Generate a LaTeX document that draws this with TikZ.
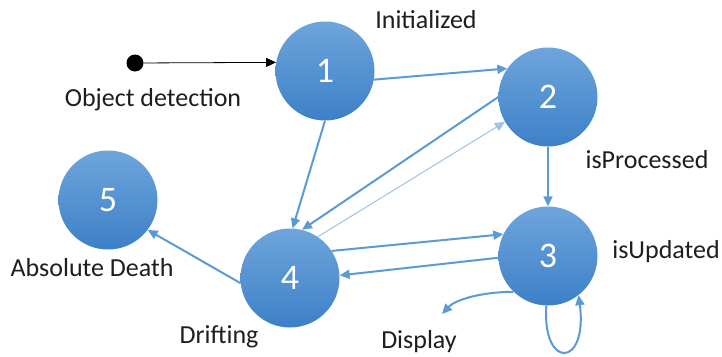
\documentclass[tikz,border=0pt]{standalone}
\usepackage{fontspec}
\setmainfont{Carlito}
\usetikzlibrary{arrows.meta}
\definecolor{edgeblue}{HTML}{5B9BD5}
\definecolor{thinblue}{HTML}{9DC3E6}
\definecolor{nodetop}{HTML}{6EA5DB}
\definecolor{nodebot}{HTML}{3D80C8}
\definecolor{labeltext}{HTML}{1E1E1E}
\begin{document}
\begin{tikzpicture}[x=1pt,y=-1pt,
  state/.style={circle, minimum size=99pt, inner sep=0pt, top color=nodetop, bottom color=nodebot, draw=none, text=white, font=\fontsize{36}{40}\selectfont},
  lbl/.style={font=\fontsize{26}{30}\selectfont, text=labeltext, inner sep=0pt},
  edge/.style={draw=edgeblue, line width=2pt, -{Triangle[length=10pt,width=9pt]}},
  thinedge/.style={draw=thinblue, line width=1pt, -{Triangle[length=10pt,width=9pt]}},
  startarrow/.style={draw=black, line width=0.8pt, -{Triangle[length=10pt,width=9pt]}}]
\useasboundingbox (0,0) rectangle (722,356);
\fill[white] (0,0) rectangle (722,356);

\node[state] (n1) at (325,71) {1};
\node[state] (n2) at (548,97) {2};
\node[state] (n3) at (548,256) {3};
\node[state] (n4) at (290,278) {4};
\node[state] (n5) at (108,200) {5};
\node[circle, fill=black, minimum size=17pt, inner sep=0pt] (start) at (135,63) {};

\node[lbl] (tobj) at (153,100) {Object detection};
\node[lbl] (tinit) at (426,20) {Initialized};
\node[lbl] (tproc) at (647,160) {isProcessed};
\node[lbl] (tupd) at (666,252) {isUpdated};
\node[lbl] (tdeath) at (92,268) {Absolute Death};
\node[lbl] (tdrift) at (219,337) {Drifting};
\node[lbl] (tdisp) at (419,342) {Display};

\coordinate (dispend) at (442,314);

\draw[startarrow] (start) -- (n1.170);
\draw[edge] (n1.-10) -- (n2.145);
\draw[edge] (n1.-90) -- (n4.87);
\draw[edge] (n2.180) -- (n4.76);
\draw[thinedge] (n4.56) -- (n2.210);
\draw[edge] (n4.33) -- (n3.154);
\draw[edge] (n3.182) -- (n4.3);
\draw[edge] (n2.-90) -- (n3.90);
\draw[edge] (n4.186) -- (n5.-37);
\draw[edge] (n3.-134) .. controls (480,292) and (455,300) .. (dispend);
\draw[edge] (n3.-92) .. controls (542,370) and (588,368) .. (n3.-52);
\end{tikzpicture}
\end{document}
